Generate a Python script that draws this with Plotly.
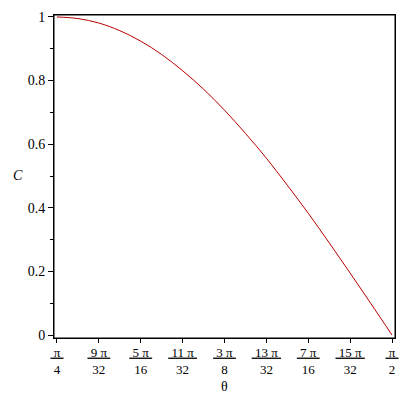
import plotly.graph_objects as go
import math

# theta sampled in multiples of pi (pi/4 .. pi/2 in steps of pi/64)
theta_over_pi = [0.25 + k / 64 for k in range(17)]
c_values = [1.000, 0.995, 0.981, 0.957, 0.924, 0.882, 0.831, 0.773, 0.707,
            0.634, 0.556, 0.471, 0.383, 0.290, 0.195, 0.098, 0.000]

tick_over_pi = [8/32, 9/32, 10/32, 11/32, 12/32, 13/32, 14/32, 15/32, 16/32]
nb = "\u00a0"
tick_num = ["π", "9 π", "5 π", "11 π", "3 π", "13 π", "7 π", "15 π", "π"]
tick_den = ["4", "32", "16", "32", "8", "32", "16", "32", "2"]
tick_labels = [f"<u>{nb}{n}{nb}</u><br>{d}" for n, d in zip(tick_num, tick_den)]

y_ticks = [0, 0.2, 0.4, 0.6, 0.8, 1]
y_tick_labels = ["0", "0.2", "0.4", "0.6", "0.8", "1"]

theta = [t * math.pi for t in theta_over_pi]
tickvals = [t * math.pi for t in tick_over_pi]

fig = go.Figure()
fig.add_trace(go.Scatter(x=theta, y=c_values, mode="lines",
                         line=dict(color="#b80000", width=1, shape="spline"),
                         showlegend=False, hoverinfo="skip"))

serif = "Liberation Serif, Times New Roman, serif"
font = dict(family=serif, size=14, color="black")
xfont = dict(family=serif, size=13, color="black")

fig.update_layout(
    width=399, height=399,
    margin=dict(l=46, r=12, t=2, b=69),
    paper_bgcolor="white", plot_bgcolor="white",
    font=font,
    xaxis=dict(range=[math.pi * 0.25 - 0.007, math.pi * 0.5 + 0.007],
               tickmode="array", tickvals=tickvals, ticktext=tick_labels,
               showgrid=False, zeroline=False, showline=True, linecolor="black",
               linewidth=1, mirror=True, ticks="outside", ticklen=4,
               tickcolor="black", tickfont=xfont, ticklabelstandoff=-2,
               ticklabeloverflow="allow"),
    yaxis=dict(range=[-0.0093, 1.0062],
               tickmode="array", tickvals=y_ticks, ticktext=y_tick_labels,
               showgrid=False, zeroline=False, showline=True, linecolor="black",
               linewidth=1, mirror=True, ticks="outside", ticklen=5,
               tickcolor="black", tickfont=font, ticklabeloverflow="allow",
               minor=dict(tickvals=[0.1, 0.3, 0.5, 0.7, 0.9], ticks="outside",
                          ticklen=3, tickcolor="black", showgrid=False)),
    shapes=[dict(type="rect", xref="paper", yref="paper", x0=0, x1=1, y0=0, y1=1,
                 line=dict(color="black", width=1), fillcolor="rgba(0,0,0,0)",
                 layer="above")],
    annotations=[
        dict(text="θ", xref="paper", yref="paper", x=0.501, y=-0.149,
             showarrow=False, font=font, xanchor="center", yanchor="middle"),
        dict(text="<i>C</i>", xref="paper", yref="paper", x=-0.106, y=0.503,
             showarrow=False, font=font, xanchor="center", yanchor="middle"),
    ],
)

fig.write_html("out.html")
